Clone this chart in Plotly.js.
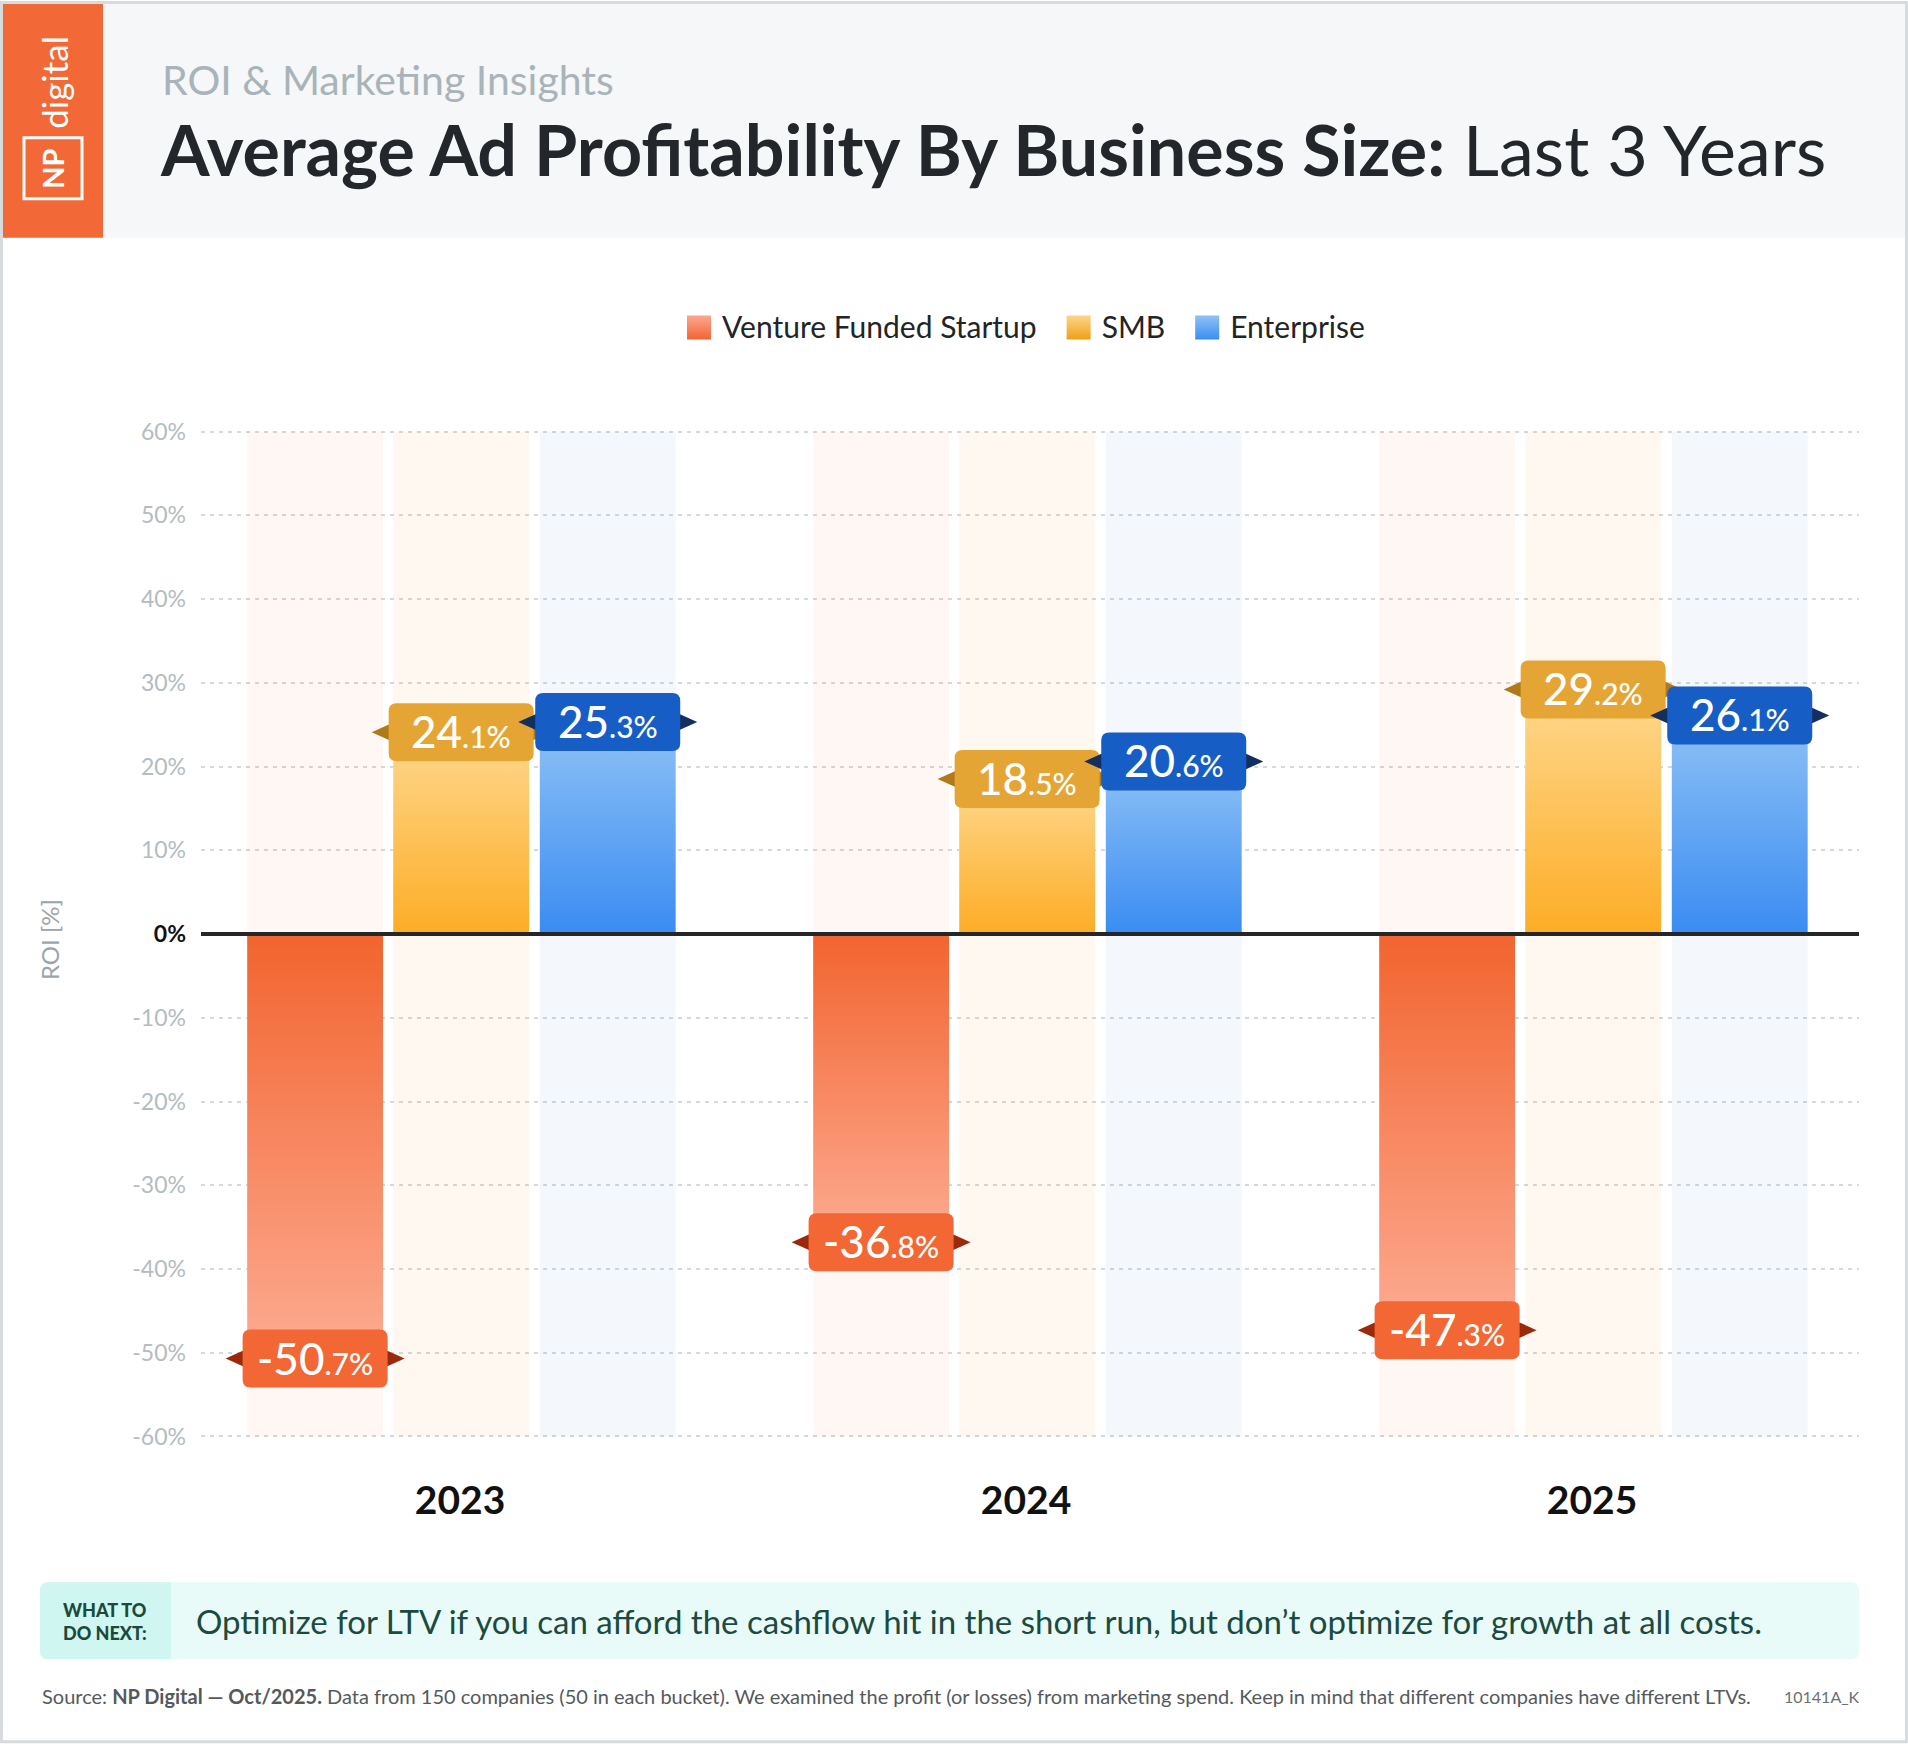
<!DOCTYPE html>
<html>
<head>
<meta charset="utf-8">
<script src="https://cdn.plot.ly/plotly-3.0.1.min.js"></script>
<style>
  html, body { margin: 0; padding: 0; background: #ffffff; }
  #chart { width: 1908px; height: 1744px; }
</style>
</head>
<body>
<div id="chart"></div>
<script>
// ---------------- DATA ----------------
const years = ['2023', '2024', '2025'];
const seriesNames = ['Venture Funded Startup', 'SMB', 'Enterprise'];
const startup = [-50.7, -36.8, -47.3];
const smb = [24.1, 18.5, 29.2];
const enterprise = [25.3, 20.6, 26.1];
const yTickVals = [60, 50, 40, 30, 20, 10, 0, -10, -20, -30, -40, -50, -60];
const yTickText = ['60%', '50%', '40%', '30%', '20%', '10%', '0%', '-10%', '-20%', '-30%', '-40%', '-50%', '-60%'];
const yMin = -60, yMax = 60;

// ---------------- GEOMETRY / STYLE ----------------
const W = 1908, H = 1744;
const yPad = 0.3;
const plotL = 201, plotR = 1859, plotT = 428.5, plotB = 1439.5;
const px2x = p => (p - plotL) / (plotR - plotL);
const px2y = p => (plotB - p) / (plotB - plotT);
const FONT = 'Lato, "Open Sans", sans-serif';

const barW = 0.24;
const centers = [-0.256, 0.002, 0.261];
const xIdx = years.map((_, i) => i);
const values = [startup, smb, enterprise];

const barColor = ['#f4774a', '#fdc15a', '#5ea4f3'];
const tint = ['rgba(242,101,53,0.055)', 'rgba(253,160,60,0.07)', 'rgba(60,120,210,0.055)'];
const boxColor = ['#f26733', '#e5a535', '#165dc6'];
const triColor = ['#9b2a0c', '#b07a1a', '#132f60'];

const traces = [];
// background tint columns (full range)
values.forEach((vals, s) => {
  traces.push({
    type: 'bar', x: xIdx, y: xIdx.map(() => yMax - yMin), base: yMin,
    width: barW, offset: centers[s] - barW / 2,
    marker: { color: tint[s], line: { width: 0 } },
    showlegend: false, hoverinfo: 'skip', name: 'bg' + s
  });
});
values.forEach((vals, s) => {
  traces.push({
    type: 'bar', x: xIdx, y: vals, name: seriesNames[s],
    width: barW, offset: centers[s] - barW / 2,
    marker: { color: barColor[s], line: { width: 0 } },
    hovertemplate: '%{y:.1f}%<extra>' + seriesNames[s] + '</extra>'
  });
});

// ---------------- LABEL BOXES ----------------
const hw = 72.5, hh = 29, rr = 8;
const boxPath = `M${-hw + rr},${-hh} L${hw - rr},${-hh} Q${hw},${-hh} ${hw},${-hh + rr} L${hw},${hh - rr} Q${hw},${hh} ${hw - rr},${hh} L${-hw + rr},${hh} Q${-hw},${hh} ${-hw},${hh - rr} L${-hw},${-hh + rr} Q${-hw},${-hh} ${-hw + rr},${-hh} Z`;
const triL = `M${-hw + 3},9 L${-hw - 17},0 L${-hw + 3},-9 Z`;
const triR = `M${hw - 3},9 L${hw + 17},0 L${hw - 3},-9 Z`;

const shapes = [];
const annotations = [];

function pxRect(x0, y0, x1, y1, opts) {
  return Object.assign({
    type: 'rect', xref: 'paper', yref: 'paper',
    x0: px2x(x0), x1: px2x(x1), y0: px2y(y1), y1: px2y(y0),
    line: { width: 0 }, layer: 'below'
  }, opts);
}
function roundPath(x0, y0, x1, y1, r, corners) {
  const X = px2x, Y = px2y;
  const c = corners || [1, 1, 1, 1];
  let d = '';
  d += `M${X(x0 + (c[0] ? r : 0))},${Y(y0)} L${X(x1 - (c[1] ? r : 0))},${Y(y0)} `;
  if (c[1]) d += `Q${X(x1)},${Y(y0)} ${X(x1)},${Y(y0 + r)} `;
  d += `L${X(x1)},${Y(y1 - (c[2] ? r : 0))} `;
  if (c[2]) d += `Q${X(x1)},${Y(y1)} ${X(x1 - r)},${Y(y1)} `;
  d += `L${X(x0 + (c[3] ? r : 0))},${Y(y1)} `;
  if (c[3]) d += `Q${X(x0)},${Y(y1)} ${X(x0)},${Y(y1 - r)} `;
  d += `L${X(x0)},${Y(y0 + (c[0] ? r : 0))} `;
  if (c[0]) d += `Q${X(x0)},${Y(y0)} ${X(x0 + r)},${Y(y0)} `;
  return d + 'Z';
}

// header band & logo
shapes.push(pxRect(0, 0, W, 237, { fillcolor: '#f5f7f8' }));
shapes.push(pxRect(0, 0, 103, 237, { fillcolor: '#f26836' }));
shapes.push(pxRect(24, 137, 82, 198, { fillcolor: 'rgba(0,0,0,0)', line: { color: '#ffffff', width: 3 } }));
// callout box
shapes.push({ type: 'path', xref: 'paper', yref: 'paper', layer: 'below', path: roundPath(40, 1583, 1859, 1660, 8), fillcolor: '#e8fbf9', line: { width: 0 } });
shapes.push({ type: 'path', xref: 'paper', yref: 'paper', layer: 'below', path: roundPath(40, 1583, 171, 1660, 8, [1, 0, 0, 1]), fillcolor: '#cff6f0', line: { width: 0 } });
// outer border
shapes.push({ type: 'rect', xref: 'paper', yref: 'paper', layer: 'above',
  x0: px2x(1.5), x1: px2x(W - 1.5), y0: px2y(H - 1.5), y1: px2y(1.5),
  line: { color: '#d8dbdd', width: 3 }, fillcolor: 'rgba(0,0,0,0)' });

years.forEach((yr, j) => {
  values.forEach((vals, s) => {
    const v = vals[j];
    const common = { type: 'path', xref: 'x', yref: 'y', xsizemode: 'pixel', ysizemode: 'pixel',
      xanchor: j + centers[s], yanchor: v, line: { width: 0 }, layer: 'above' };
    shapes.push(Object.assign({}, common, { path: triL, fillcolor: triColor[s] }));
    shapes.push(Object.assign({}, common, { path: triR, fillcolor: triColor[s] }));
    shapes.push(Object.assign({}, common, { path: boxPath, fillcolor: boxColor[s] }));
    const str = v.toFixed(1);
    const dot = str.indexOf('.');
    annotations.push({
      xref: 'x', yref: 'y', x: j + centers[s], y: v, showarrow: false,
      xanchor: 'center', yanchor: 'middle', yshift: 1,
      text: str.slice(0, dot) + '<span style="font-size:30px">' + str.slice(dot) + '%</span>',
      font: { family: FONT, size: 44, color: '#ffffff', weight: 500 }
    });
  });
});

// ---------------- TEXT ----------------
function pxAnn(x, y, text, font, extra) {
  return Object.assign({ xref: 'paper', yref: 'paper', x: px2x(x), y: px2y(y), text: text,
    showarrow: false, xanchor: 'left', yanchor: 'middle', font: Object.assign({ family: FONT }, font) }, extra || {});
}
annotations.push(pxAnn(160, 79, 'ROI &amp; Marketing Insights', { size: 41, color: '#a8b4b9', weight: 400 }));
annotations.push(pxAnn(158, 148, '<b>Average Ad Profitability By Business Size:</b> Last 3 Years', { size: 70, color: '#23262a', weight: 400 }));
annotations.push(pxAnn(54, 82, 'digital', { size: 35, color: '#ffffff' }, { xanchor: 'center', textangle: -90 }));
annotations.push(pxAnn(53, 168, '<b>NP</b>', { size: 29, color: '#ffffff' }, { xanchor: 'center', textangle: -90 }));
annotations.push(pxAnn(50, 940, 'ROI [%]', { size: 24, color: '#9ba4a9' }, { xanchor: 'center', textangle: -90 }));
annotations.push(pxAnn(61, 1622, 'WHAT TO<br>DO NEXT:', { size: 18, color: '#1b4a3d', weight: 900 }, { align: 'left' }));
annotations.push(pxAnn(194, 1622, 'Optimize for LTV if you can afford the cashflow hit in the short run, but don’t optimize for growth at all costs.', { size: 33, color: '#1c4a3e' }));
annotations.push(pxAnn(40, 1697, 'Source: <b>NP Digital — Oct/2025.</b> Data from 150 companies (50 in each bucket). We examined the profit (or losses) from marketing spend. Keep in mind that different companies have different LTVs.', { size: 20, color: '#54595d' }));
annotations.push(pxAnn(1862, 1697, '10141A_K', { size: 16, color: '#6a6f73' }, { xanchor: 'right' }));

const yText = yTickText.map((t, i) => yTickVals[i] === 0 ? '<b><span style="color:#111111">' + t + '</span></b>' : t);

const layout = {
  width: W, height: H, autosize: false,
  margin: { l: plotL, r: W - plotR, t: plotT, b: H - plotB, pad: 0 },
  paper_bgcolor: '#ffffff', plot_bgcolor: 'rgba(0,0,0,0)',
  barmode: 'overlay',
  font: { family: FONT },
  showlegend: true,
  legend: {
    orientation: 'h', x: px2x(1016), xanchor: 'center', y: px2y(326), yanchor: 'middle',
    font: { family: FONT, size: 30, color: '#222426' }, itemclick: false, itemdoubleclick: false,
    traceorder: 'normal', bgcolor: 'rgba(0,0,0,0)', itemwidth: 50
  },
  xaxis: {
    type: 'linear', range: [-0.4576, 2.4717], tickvals: xIdx, ticktext: years,
    showgrid: false, zeroline: false, showline: false, ticks: '',
    tickfont: { family: FONT, size: 39, color: '#111111', weight: 700 },
    ticklabelstandoff: 35, fixedrange: true
  },
  yaxis: {
    range: [yMin - yPad, yMax + yPad], tickvals: yTickVals, ticktext: yText,
    showgrid: true, gridcolor: '#d3d9dc', gridwidth: 1.5, griddash: '4px,5px',
    zeroline: true, zerolinecolor: '#262626', zerolinewidth: 4, zerolinelayer: 'above traces',
    showline: false, ticks: '', ticklabelstandoff: 14,
    tickfont: { family: FONT, size: 23, color: '#b4bcc0' }, fixedrange: true
  },
  shapes: shapes,
  annotations: annotations
};

function applyGradients(gd) {
  const svg = gd.querySelector('.main-svg');
  const NS = 'http://www.w3.org/2000/svg';
  let defs = svg.querySelector('defs');
  if (!defs) { defs = document.createElementNS(NS, 'defs'); svg.insertBefore(defs, svg.firstChild); }
  const grads = {
    gBar0: ['#f2642f', '#fdab92'], gBar1: ['#fed88f', '#fdad26'], gBar2: ['#8fc2f5', '#3a8cf2'],
    gLeg0: ['#fda88e', '#f26334'], gLeg1: ['#fdd68c', '#eea015'], gLeg2: ['#8fc2f5', '#3a8cf2']
  };
  Object.keys(grads).forEach(id => {
    const lg = document.createElementNS(NS, 'linearGradient');
    lg.setAttribute('id', id);
    lg.setAttribute('x1', '0'); lg.setAttribute('y1', '0'); lg.setAttribute('x2', '0'); lg.setAttribute('y2', '1');
    grads[id].forEach((c, k) => {
      const st = document.createElementNS(NS, 'stop');
      st.setAttribute('offset', k === 0 ? '0' : '1');
      st.setAttribute('stop-color', c);
      lg.appendChild(st);
    });
    defs.appendChild(lg);
  });
  const traceOf = el => {
    const d = el.__data__;
    if (!d) return null;
    if (d[0] && d[0].trace) return d[0].trace;
    if (d[0] && d[0][0] && d[0][0].trace) return d[0][0].trace;
    return null;
  };
  gd.querySelectorAll('.barlayer .trace').forEach(g => {
    const tr = traceOf(g);
    if (!tr) return;
    const s = seriesNames.indexOf(tr.name);
    if (s < 0) return;
    g.querySelectorAll('path').forEach(p => { p.style.fill = 'url(#gBar' + s + ')'; });
  });
  gd.querySelectorAll('.legend .traces').forEach(g => {
    const tr = traceOf(g);
    if (!tr) return;
    const s = seriesNames.indexOf(tr.name);
    if (s < 0) return;
    const txt = g.querySelector('.legendtext');
    const tx = txt ? parseFloat(txt.getAttribute('x')) || 40 : 40;
    g.querySelectorAll('.legendpoints path').forEach(p => {
      p.style.fill = 'url(#gLeg' + s + ')';
      p.setAttribute('transform', 'translate(' + (tx - 23) + ',1) scale(2)');
    });
  });
}

const gd = document.getElementById('chart');
Plotly.newPlot(gd, traces, layout, { displayModeBar: false, staticPlot: false }).then(() => applyGradients(gd));
</script>
</body>
</html>
